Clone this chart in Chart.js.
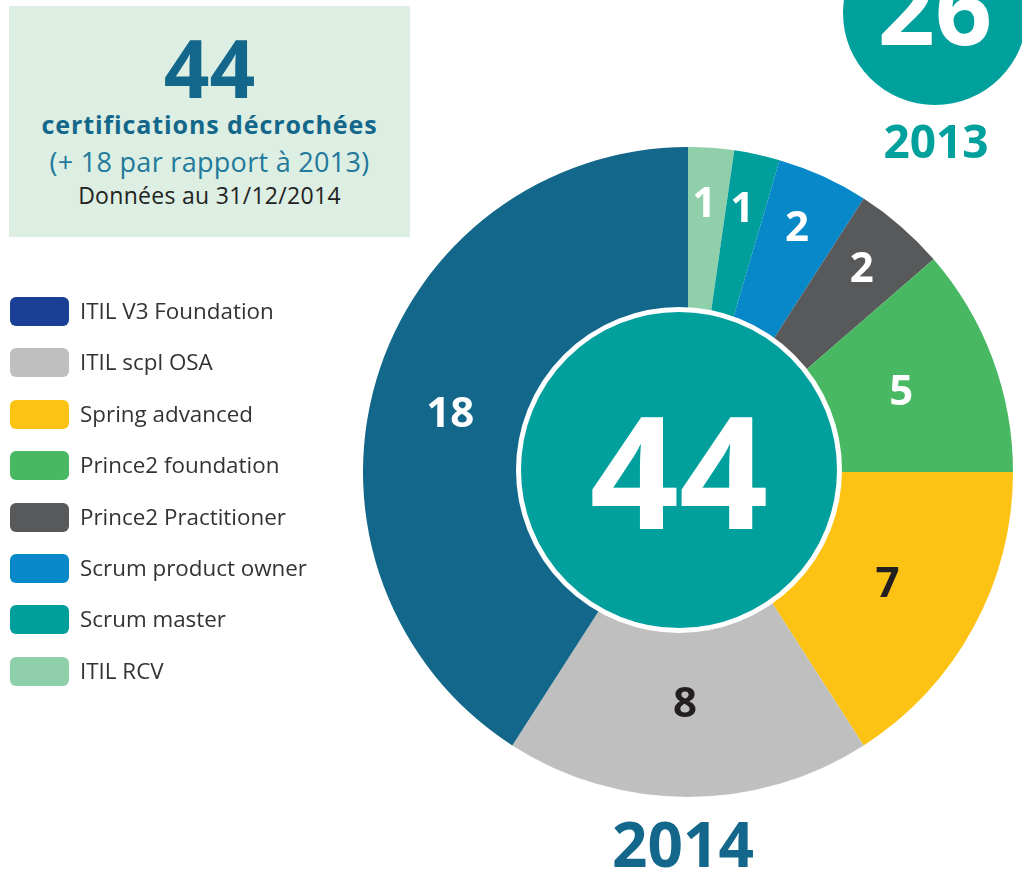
<!DOCTYPE html>
<html lang="fr">
<head>
<meta charset="utf-8">
<title>Certifications 2014</title>
<script src="https://cdn.jsdelivr.net/npm/chart.js@4/dist/chart.umd.min.js"></script>
<style>
  html, body { margin: 0; padding: 0; background: #fff; }
  body { width: 1022px; height: 874px; position: relative; overflow: hidden; font-family: "Open Sans", sans-serif; }
  #chart { position: absolute; left: 0; top: 0; }
  .abs { position: absolute; white-space: nowrap; }
  #info { left: 9px; top: 6px; width: 401px; height: 231px; background: #ddeee2; }
  #info div { position: absolute; left: 0; width: 100%; text-align: center; }
  #big { top: 21px; font-size: 80px; line-height: 80px; font-weight: 700; color: #12678a; }
  #sub1 { top: 106px; font-size: 25px; line-height: 25px; font-weight: 700; color: #12678a; letter-spacing: 0.9px; }
  #sub2 { top: 142px; font-size: 27px; line-height: 27px; color: #22799b; letter-spacing: 0.3px; }
  #sub3 { top: 178px; font-size: 23px; line-height: 23px; color: #222; letter-spacing: 0.3px; }
  #legend { left: 10px; top: 297px; }
  .row { position: absolute; left: 0; height: 29px; }
  .sw { position: absolute; left: 0; top: 0; width: 59px; height: 29px; border-radius: 6px; }
  .lt { position: absolute; left: 70px; top: 2px; font-size: 22.4px; line-height: 24px; color: #333; }
  #circle13 { left: 843px; top: -79px; width: 184px; height: 184px; border-radius: 50%; background: #00a09c; }
  #n13 { left: 835px; width: 200px; text-align: center; top: -44px; font-size: 100px; line-height: 100px; font-weight: 700; color: #fff; }
  #y13 { left: 836px; width: 200px; text-align: center; top: 117px; font-size: 46px; line-height: 46px; font-weight: 700; color: #00a09c; }
  #y14 { left: 583px; width: 200px; text-align: center; top: 812px; font-size: 62px; line-height: 62px; font-weight: 700; color: #12678a; }
</style>
</head>
<body>
<canvas id="chart" width="1022" height="874"></canvas>

<div id="info" class="abs">
  <div id="big"></div>
  <div id="sub1">certifications décrochées</div>
  <div id="sub2"></div>
  <div id="sub3">Données au 31/12/2014</div>
</div>

<div id="legend" class="abs"></div>

<div id="circle13" class="abs"></div>
<div id="n13" class="abs"></div>
<div id="y13" class="abs">2013</div>
<div id="y14" class="abs">2014</div>

<script>
"use strict";

// legend order (top to bottom); the pie runs the other way, clockwise from the top
const labels = ["ITIL V3 Foundation", "ITIL scpl OSA", "Spring advanced", "Prince2 foundation",
  "Prince2 Practitioner", "Scrum product owner", "Scrum master", "ITIL RCV"];
const counts = [18, 8, 7, 5, 2, 2, 1, 1];
const total2013 = 26;

const sliceColors = ["#12678a", "#bfbfbf", "#fdc314", "#48b862", "#58595b", "#0788c8", "#009f9b", "#8fcfaa"];
const legendColors = ["#1a4096", "#bfbfbf", "#fdc314", "#48b862", "#58595b", "#0788c8", "#009f9b", "#8fcfaa"];
const valueColors = ["#fff", "#231f20", "#231f20", "#fff", "#fff", "#fff", "#fff", "#fff"];

const $ = (id) => document.getElementById(id);
const total = counts.reduce((a, b) => a + b, 0);

$("big").textContent = total;
$("sub2").textContent = `(+ ${total - total2013} par rapport à 2013)`;
$("n13").textContent = total2013;

// html legend
labels.forEach((name, i) => {
  const row = document.createElement("div");
  row.className = "row";
  row.style.top = `${(i * 51.4).toFixed(1)}px`;
  row.innerHTML = `<div class="sw" style="background:${legendColors[i]}"></div><div class="lt">${name}</div>`;
  $("legend").appendChild(row);
});

const rev = (a) => a.slice().reverse();
const pieLabels = rev(labels);
const pieCounts = rev(counts);
const pieColors = rev(sliceColors);
const pieValueColors = rev(valueColors);

const centerPlugin = {
  id: "center",
  afterDatasetsDraw(chart) {
    const ctx = chart.ctx;
    const arcs = chart.getDatasetMeta(0).data;
    const a0 = arcs[0];

    // teal disc with white ring, sits a touch left of the pie centre
    const cx = a0.x - 9, cy = a0.y - 2;
    ctx.save();
    ctx.beginPath();
    ctx.arc(cx, cy, 160.5, 0, Math.PI * 2);
    ctx.fillStyle = "#01a09d";
    ctx.fill();
    ctx.lineWidth = 5;
    ctx.strokeStyle = "#fff";
    ctx.stroke();

    ctx.fillStyle = "#fff";
    ctx.font = "700 156px 'Open Sans'";
    ctx.textAlign = "center";
    ctx.textBaseline = "alphabetic";
    ctx.fillText(String(total), cx, cy + 59);

    // value labels
    arcs.forEach((arc, i) => {
      const v = pieCounts[i];
      const mid = (arc.startAngle + arc.endAngle) / 2 - (v >= 10 ? 0.04 : 0);
      const f = v >= 10 ? 0.745 : v >= 5 ? 0.71 : 0.83;
      const r = arc.outerRadius * f;
      const x = arc.x + Math.cos(mid) * r;
      const y = arc.y + Math.sin(mid) * r;
      ctx.font = "700 42px 'Open Sans'";
      ctx.fillStyle = pieValueColors[i];
      ctx.fillText(String(v), x - 3, y + 14);
    });
    ctx.restore();
  },
};

new Chart($("chart").getContext("2d"), {
  type: "pie",
  data: {
    labels: pieLabels,
    datasets: [{ data: pieCounts, backgroundColor: pieColors, borderWidth: 0 }],
  },
  options: {
    responsive: false,
    animation: false,
    devicePixelRatio: 1,
    layout: { padding: { left: 363, right: 9, top: 147, bottom: 77 } },
    plugins: { legend: { display: false }, tooltip: { enabled: false } },
  },
  plugins: [centerPlugin],
});
</script>
</body>
</html>
